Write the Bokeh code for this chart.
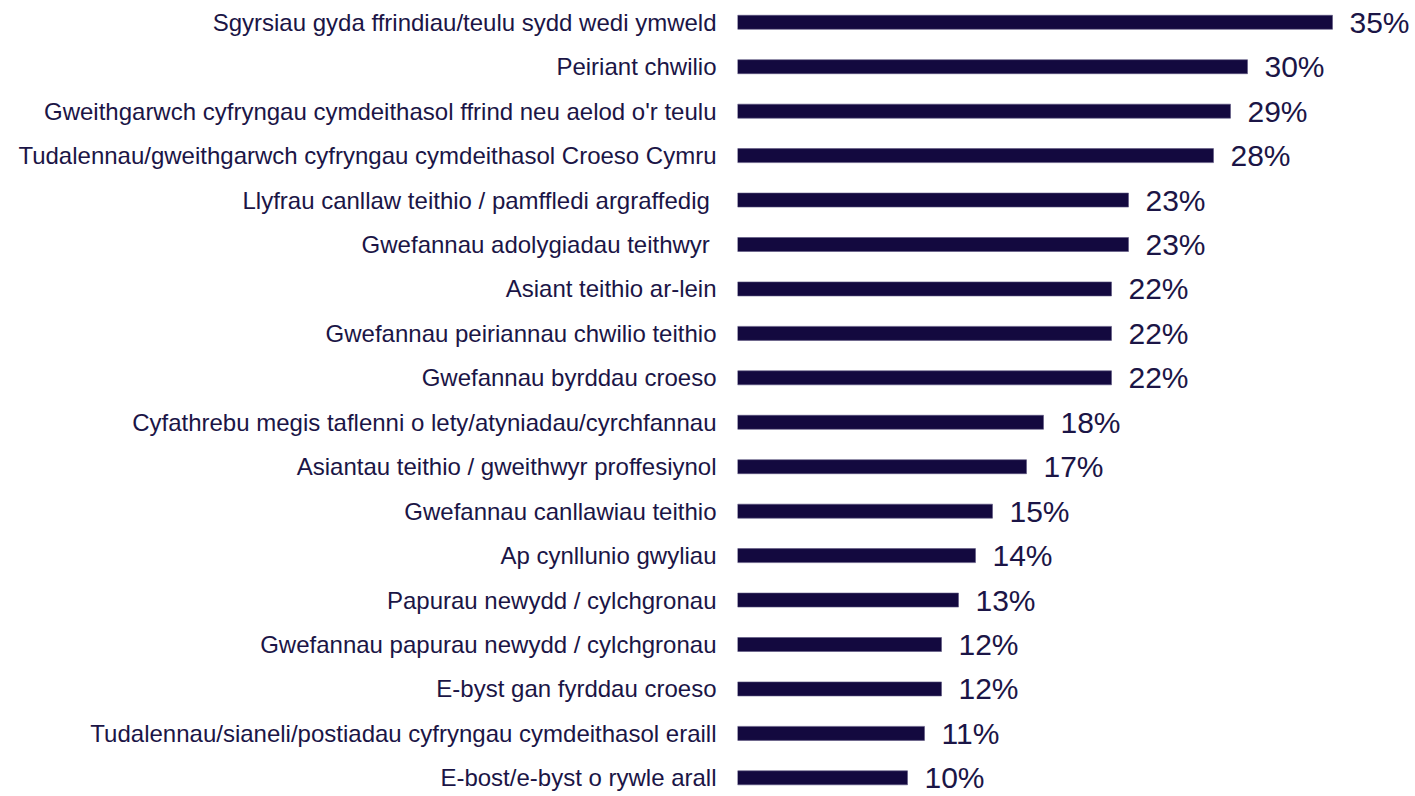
from bokeh.plotting import figure
from bokeh.models import Range1d, FixedTicker, ColumnDataSource
from bokeh.core.properties import value
from bokeh.embed import file_html
from bokeh.resources import INLINE

categories = [
    "Sgyrsiau gyda ffrindiau/teulu sydd wedi ymweld",
    "Peiriant chwilio",
    "Gweithgarwch cyfryngau cymdeithasol ffrind neu aelod o'r teulu",
    "Tudalennau/gweithgarwch cyfryngau cymdeithasol Croeso Cymru",
    "Llyfrau canllaw teithio / pamffledi argraffedig\u00a0",
    "Gwefannau adolygiadau teithwyr\u00a0",
    "Asiant teithio ar-lein",
    "Gwefannau peiriannau chwilio teithio",
    "Gwefannau byrddau croeso",
    "Cyfathrebu megis taflenni o lety/atyniadau/cyrchfannau",
    "Asiantau teithio / gweithwyr proffesiynol",
    "Gwefannau canllawiau teithio",
    "Ap cynllunio gwyliau",
    "Papurau newydd / cylchgronau",
    "Gwefannau papurau newydd / cylchgronau",
    "E-byst gan fyrddau croeso",
    "Tudalennau/sianeli/postiadau cyfryngau cymdeithasol eraill",
    "E-bost/e-byst o rywle arall",
]
values = [35, 30, 29, 28, 23, 23, 22, 22, 22, 18, 17, 15, 14, 13, 12, 12, 11, 10]

BAR = "#13093F"
TEXT = "#1B1546"

n = len(categories)
ypos = [n - 1 - i for i in range(n)]
labels = [f"{v}%" for v in values]

src = ColumnDataSource(dict(y=ypos, v=values, lab=labels))

W, H = 1415, 796
LEFT = 737
frame_w = W - LEFT
px_per_unit = 17.0

p = figure(width=W, height=H, output_backend="svg", toolbar_location=None,
           x_range=Range1d(0, frame_w / px_per_unit),
           y_range=Range1d(-0.42, n - 1 + 0.49),
           min_border_left=LEFT, min_border_right=0, min_border_top=0, min_border_bottom=0,
           x_axis_location=None)

p.hbar(y="y", left=0, right="v", height=0.315, source=src,
       fill_color=BAR, line_color="#5a5480", line_width=0.6)

p.text(x="v", y="y", text="lab", source=src, x_offset=17, y_offset=0,
       text_baseline="middle", text_align="left",
       text_font_size="30px", text_color=TEXT, text_font=value("Liberation Sans"))

ax = p.yaxis[0]
ax.ticker = FixedTicker(ticks=ypos)
ax.major_label_overrides = {y: c for y, c in zip(ypos, categories)}
ax.axis_line_color = None
ax.major_tick_line_color = None
ax.minor_tick_line_color = None
ax.major_tick_out = 0
ax.major_tick_in = 0
ax.major_label_standoff = 21
ax.major_label_text_font = "Liberation Sans"
ax.major_label_text_font_size = "24px"
ax.major_label_text_color = TEXT

p.xgrid.visible = False
p.ygrid.visible = False
p.outline_line_color = None
p.background_fill_color = "white"
p.border_fill_color = "white"

open("out.html", "w").write(file_html(p, INLINE))
